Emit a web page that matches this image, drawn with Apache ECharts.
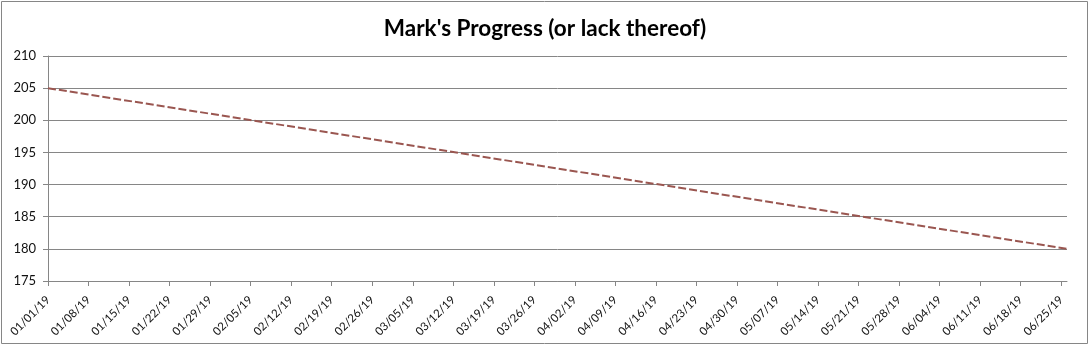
<!DOCTYPE html>
<html>
<head>
<meta charset="utf-8">
<script src="https://cdn.jsdelivr.net/npm/echarts@6/dist/echarts.min.js"></script>
<style>
html,body{margin:0;padding:0;background:#fff;}
#chart{width:1090px;height:346px;}
</style>
</head>
<body>
<div id="chart"></div>
<script>
// Data
const tickLabels = ['01/01/19','01/08/19','01/15/19','01/22/19','01/29/19','02/05/19','02/12/19','02/19/19','02/26/19','03/05/19','03/12/19','03/19/19','03/26/19','04/02/19','04/09/19','04/16/19','04/23/19','04/30/19','05/07/19','05/14/19','05/21/19','05/28/19','06/04/19','06/11/19','06/18/19','06/25/19'];
const dates = ['01/01/19','06/26/19'];
const weights = [205, 180];
const axisMinDate = '01/01/19';
const axisMaxDate = '06/26/19';
const yMin = 175, yMax = 210, yStep = 5;

const DAY = 86400000;
function parseMDY(s){
  const p = s.split('/');
  return Date.UTC(2000 + +p[2], +p[0] - 1, +p[1]);
}
const origin = parseMDY(axisMinDate);
const dayOf = s => Math.round((parseMDY(s) - origin) / DAY);
function fmt(v){
  const d = new Date(origin + Math.round(v) * DAY);
  const pad = n => (n < 10 ? '0' : '') + n;
  return pad(d.getUTCMonth() + 1) + '/' + pad(d.getUTCDate()) + '/' + pad(d.getUTCFullYear() % 100);
}
const tickValues = tickLabels.map(dayOf);
const seriesData = dates.map((d, i) => [dayOf(d), weights[i]]);

const chart = echarts.init(document.getElementById('chart'), null, {renderer: 'canvas'});
const gray = '#868686';
const font = 'Lato, "Open Sans", sans-serif';
chart.setOption({
  animation: false,
  backgroundColor: '#fff',
  title: {
    text: "Mark's Progress (or lack thereof)",
    left: 'center',
    top: 12,
    textStyle: {fontFamily: font, fontSize: 22.5, fontWeight: 'bold', color: '#000'}
  },
  graphic: [{
    type: 'rect',
    shape: {x: 1.5, y: 1.5, width: 1086, height: 342},
    style: {fill: 'none', stroke: gray, lineWidth: 1},
    silent: true, z: -1
  }],
  grid: {left: 48, right: 23, top: 56, bottom: 65, containLabel: false},
  xAxis: {
    type: 'value',
    min: dayOf(axisMinDate),
    max: dayOf(axisMaxDate),
    axisLine: {show: true, onZero: false, lineStyle: {color: gray, width: 1}},
    axisTick: {show: true, customValues: tickValues, length: 5, lineStyle: {color: gray}},
    axisLabel: {
      customValues: tickValues,
      formatter: v => fmt(v),
      rotate: 45,
      fontFamily: font,
      fontSize: 11.5,
      color: '#111',
      margin: 17,
      hideOverlap: false
    },
    splitLine: {show: false}
  },
  yAxis: {
    type: 'value',
    min: yMin, max: yMax, interval: yStep,
    axisLine: {show: true, lineStyle: {color: gray, width: 1}},
    axisTick: {show: true, length: 5, lineStyle: {color: gray}},
    axisLabel: {fontFamily: font, fontSize: 13, color: '#111', margin: 12},
    splitLine: {show: true, lineStyle: {color: gray, width: 1}}
  },
  series: [{
    type: 'line',
    data: seriesData,
    showSymbol: false,
    symbol: 'none',
    lineStyle: {color: '#9A5650', width: 2, type: [8, 3]}
  }]
});
</script>
</body>
</html>
